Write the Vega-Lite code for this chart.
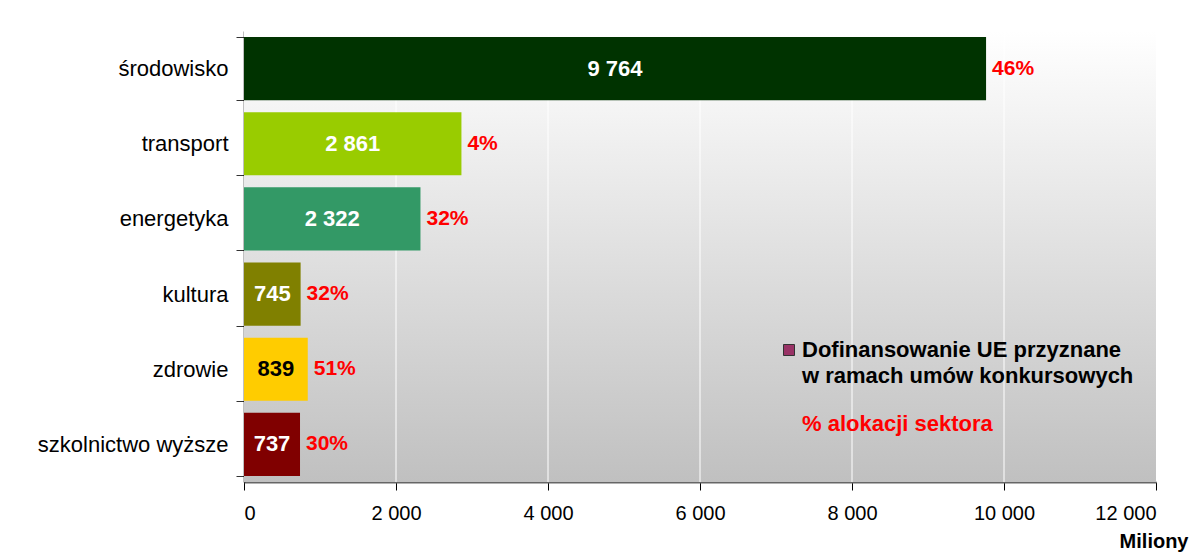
{
  "$schema": "https://vega.github.io/schema/vega-lite/v6.json",
  "width": 912,
  "height": 451,
  "autosize": {"type": "none"},
  "padding": {"left": 244, "top": 31, "right": 34, "bottom": 77},
  "background": "#ffffff",
  "config": {
    "locale": {"number": {"decimal": ",", "thousands": " ", "grouping": [3], "currency": ["", " zł"]}},
    "font": "Liberation Sans",
    "view": {"stroke": null},
    "axisX": {
      "grid": false,
      "domainColor": "#666666",
      "domainWidth": 2,
      "tickColor": "#000000",
      "tickSize": 8,
      "labelFont": "Liberation Sans",
      "labelFontSize": 20,
      "labelColor": "#000000",
      "labelPadding": 13,
      "titleFont": "Liberation Sans",
      "titleFontSize": 20,
      "titleFontWeight": "bold",
      "titleColor": "#000000",
      "titleX": 944,
      "titleY": 65,
      "titleAlign": "right",
      "titleBaseline": "alphabetic",
      "titleAnchor": null
    },
    "axisY": {
      "grid": false,
      "domainColor": "#000000",
      "domainWidth": 1.5,
      "tickColor": "#333333",
      "tickSize": 8,
      "tickBand": "extent",
      "labelFont": "Liberation Sans",
      "labelFontSize": 22,
      "labelColor": "#000000",
      "labelPadding": 8,
      "labelLimit": 0
    }
  },
  "datasets": {
    "sectors": [
      {"sector": "środowisko", "value": 9764, "pct": 0.46},
      {"sector": "transport", "value": 2861, "pct": 0.04},
      {"sector": "energetyka", "value": 2322, "pct": 0.32},
      {"sector": "kultura", "value": 745, "pct": 0.32},
      {"sector": "zdrowie", "value": 839, "pct": 0.51},
      {"sector": "szkolnictwo wyższe", "value": 737, "pct": 0.30}
    ],
    "grid": [{"v": 2000}, {"v": 4000}, {"v": 6000}, {"v": 8000}, {"v": 10000}],
    "legendRows": [{"legend": "Dofinansowanie UE przyznane"}, {"legend": "% alokacji sektora"}]
  },
  "layer": [
    {
      "data": {"values": [{}]},
      "mark": {
        "type": "rect",
        "fill": {"gradient": "linear", "x1": 0, "y1": 0, "x2": 0, "y2": 1,
          "stops": [{"offset": 0, "color": "#ffffff"}, {"offset": 1, "color": "#c0c0c0"}]}
      },
      "encoding": {
        "x": {"datum": 0, "type": "quantitative", "scale": {"domain": [0, 12000], "nice": false}, "title": "Miliony",
          "axis": {"values": [0, 2000, 4000, 6000, 8000, 10000, 12000], "labelExpr": "format(datum.value, ',')"}},
        "x2": {"datum": 12000}
      }
    },
    {
      "data": {"name": "grid"},
      "mark": {"type": "rule", "color": "#ffffff", "strokeWidth": 1},
      "encoding": {
        "x": {"field": "v", "type": "quantitative", "title": "Miliony"}
      }
    },
    {
      "data": {"name": "sectors"},
      "mark": {"type": "bar"},
      "encoding": {
        "y": {"field": "sector", "type": "nominal", "title": null,
          "sort": ["środowisko", "transport", "energetyka", "kultura", "zdrowie", "szkolnictwo wyższe"],
          "scale": {"paddingInner": 0.16, "paddingOuter": 0.08}},
        "x": {"field": "value", "type": "quantitative", "title": "Miliony"},
        "color": {"field": "sector", "type": "nominal", "legend": null,
          "scale": {"domain": ["środowisko", "transport", "energetyka", "kultura", "zdrowie", "szkolnictwo wyższe"],
            "range": ["#003300", "#99cc00", "#339966", "#808000", "#ffcc00", "#800000"]}}
      }
    },
    {
      "data": {"name": "sectors"},
      "transform": [{"calculate": "datum.value / 2", "as": "mid"}],
      "mark": {"type": "text", "font": "Liberation Sans", "fontSize": 22, "fontWeight": "bold", "align": "center", "baseline": "middle"},
      "encoding": {
        "y": {"field": "sector", "type": "nominal", "sort": ["środowisko", "transport", "energetyka", "kultura", "zdrowie", "szkolnictwo wyższe"], "title": null},
        "x": {"field": "mid", "type": "quantitative", "title": "Miliony"},
        "text": {"field": "value", "type": "quantitative", "format": ","},
        "color": {"condition": {"test": "datum.sector === 'zdrowie'", "value": "#000000"}, "value": "#ffffff"}
      }
    },
    {
      "data": {"name": "sectors"},
      "mark": {"type": "text", "font": "Liberation Sans", "fontSize": 21, "fontWeight": "bold", "align": "left", "baseline": "middle", "dx": 6, "color": "#ff0000"},
      "encoding": {
        "y": {"field": "sector", "type": "nominal", "sort": ["środowisko", "transport", "energetyka", "kultura", "zdrowie", "szkolnictwo wyższe"], "title": null},
        "x": {"field": "value", "type": "quantitative", "title": "Miliony"},
        "text": {"field": "pct", "type": "quantitative", "format": ".0%"}
      }
    },
    {
      "data": {"name": "legendRows"},
      "mark": {"type": "point", "shape": "square", "filled": true, "opacity": 0},
      "encoding": {
        "fill": {"field": "legend", "type": "nominal",
          "scale": {"domain": ["Dofinansowanie UE przyznane", "% alokacji sektora"], "range": ["#993366", "transparent"]},
          "legend": {
            "orient": "none", "legendX": 534, "legendY": 308, "title": null, "padding": 0,
            "symbolType": "square", "symbolSize": 121, "symbolOpacity": 1,
            "symbolStrokeColor": "#333333", "symbolStrokeWidth": 1,
            "labelFont": "Liberation Sans", "labelFontSize": 22, "labelFontWeight": "bold", "labelColor": "#000000",
            "labelOffset": 2, "labelLimit": 0, "labelBaseline": "top", "rowPadding": 26,
            "labelExpr": "datum.label === 'Dofinansowanie UE przyznane' ? ['Dofinansowanie UE przyznane', 'w ramach umów konkursowych'] : datum.label",
            "encode": {
              "labels": {"update": {
                "fill": {"signal": "datum.label === '% alokacji sektora' ? '#ff0000' : '#000000'"},
                "lineHeight": {"value": 26},
                "dy": {"value": -10}
              }},
              "symbols": {"update": {
                "stroke": {"signal": "datum.label === '% alokacji sektora' ? 'transparent' : '#333333'"},
                "opacity": {"value": 1}
              }}
            }
          }
        }
      }
    }
  ]
}
